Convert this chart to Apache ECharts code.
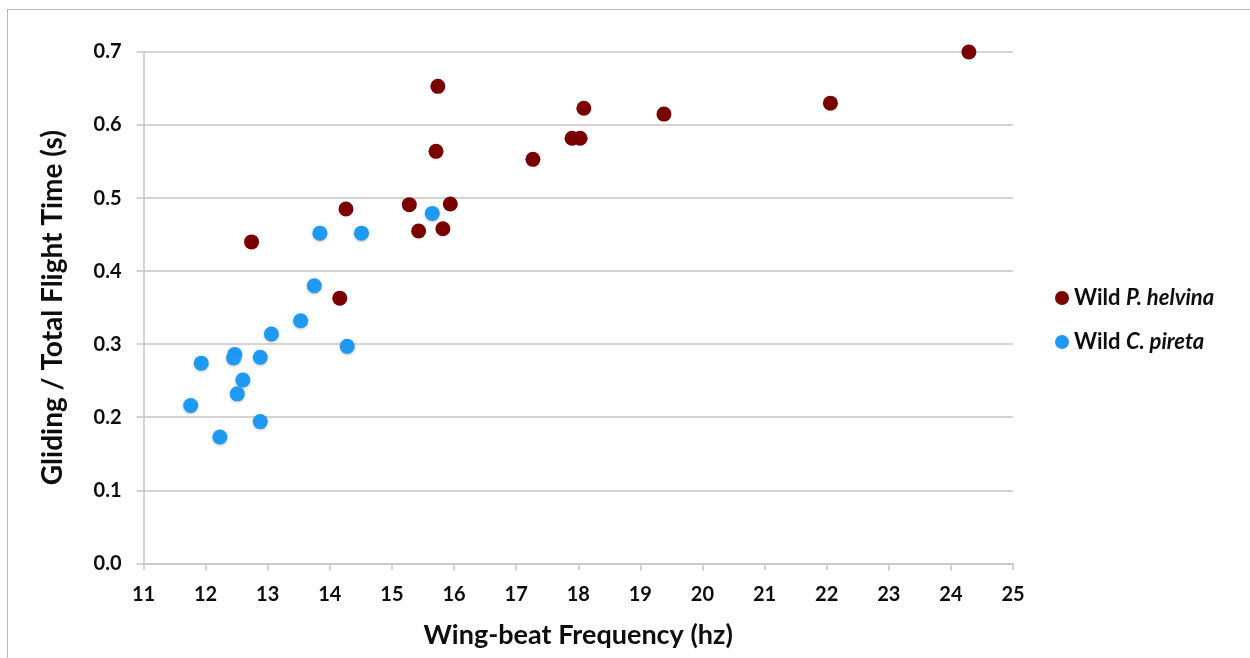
<!DOCTYPE html>
<html>
<head>
<meta charset="utf-8">
<script src="https://cdn.jsdelivr.net/npm/echarts@6/dist/echarts.min.js"></script>
<style>
  html, body { margin: 0; padding: 0; background: #fff; }
  #frame { position: absolute; left: 7px; top: 9px; right: 0; bottom: 0;
           border-left: 1px solid #b8b8b8; border-top: 1px solid #b8b8b8; }
  #chart { position: absolute; left: 0; top: 0; width: 1250px; height: 658px; }
</style>
</head>
<body>
<div id="frame"></div>
<div id="chart"></div>
<script>
// Wild P. helvina: [wing-beat frequency (hz), gliding / total flight time]
const helvinaFreq = [24.29, 15.74, 18.09, 19.38, 22.06, 17.90, 18.03, 15.71, 17.27, 15.28, 15.94, 14.26, 15.43, 15.82, 12.74, 14.16]
const helvinaRatio = [0.700, 0.653, 0.623, 0.615, 0.630, 0.582, 0.582, 0.564, 0.553, 0.491, 0.492, 0.485, 0.455, 0.458, 0.440, 0.363]

// Wild C. pireta
const piretaFreq = [13.84, 14.51, 15.65, 13.75, 13.53, 13.06, 14.28, 11.93, 12.47, 12.45, 12.88, 12.60, 12.51, 11.76, 12.88, 12.23]
const piretaRatio = [0.452, 0.452, 0.479, 0.380, 0.332, 0.314, 0.297, 0.274, 0.286, 0.281, 0.282, 0.251, 0.232, 0.216, 0.194, 0.173]

const xTicks = [11, 25, 1]
const yTicks = [0, 0.7, 0.1]

const toPairs = (xs, ys) => xs.map((x, i) => [x, ys[i]])

const FONT = 'Lato'
const WEIGHT = 'bold'
const INK = '#0d0d0d'
const GRID_GREY = '#c6c6c6'

const chart = echarts.init(document.getElementById('chart'))

chart.setOption({
    animation: false,
    textStyle: { fontFamily: FONT },
    grid: { left: 143.5, right: 237, top: 52, bottom: 94.7 },
    legend: {
        orient: 'vertical',
        left: 1050,
        top: 282,
        itemGap: 22,
        itemWidth: 14,
        itemHeight: 14,
        icon: 'circle',
        textStyle: {
            fontFamily: FONT, fontSize: 22, fontWeight: WEIGHT, color: INK,
            rich: { i: { fontFamily: FONT, fontSize: 22, fontWeight: WEIGHT, fontStyle: 'italic', color: INK } }
        },
        formatter: (name) => name.replace(/^Wild (.*)$/, 'Wild {i|$1}')
    },
    xAxis: {
        type: 'value',
        min: xTicks[0], max: xTicks[1], interval: xTicks[2],
        name: 'Wing-beat Frequency (hz)',
        nameLocation: 'middle',
        nameGap: 58,
        nameTextStyle: { fontFamily: FONT, fontSize: 27, fontWeight: WEIGHT, color: INK },
        axisLine: { lineStyle: { color: GRID_GREY, width: 1.5 } },
        axisTick: { show: true, length: 7, lineStyle: { color: GRID_GREY, width: 1.5 } },
        axisLabel: { fontFamily: FONT, fontSize: 20, fontWeight: WEIGHT, color: INK, margin: 21 },
        splitLine: { show: false }
    },
    yAxis: {
        type: 'value',
        min: yTicks[0], max: yTicks[1], interval: yTicks[2],
        name: 'Gliding / Total Flight Time (s)',
        nameLocation: 'middle',
        nameGap: 77,
        nameTextStyle: { fontFamily: FONT, fontSize: 28, fontWeight: WEIGHT, color: INK },
        axisLine: { show: true, lineStyle: { color: GRID_GREY, width: 1.5 } },
        axisTick: { show: true, length: 7, lineStyle: { color: GRID_GREY, width: 1.5 } },
        axisLabel: { fontFamily: FONT, fontSize: 20, fontWeight: WEIGHT, color: INK, margin: 22,
                     formatter: (v) => v.toFixed(1) },
        splitLine: { lineStyle: { color: GRID_GREY, width: 1.5 } }
    },
    series: [
        {
            name: 'Wild P. helvina',
            type: 'scatter',
            symbolSize: 15,
            itemStyle: { color: '#7a0000', opacity: 1 },
            data: toPairs(helvinaFreq, helvinaRatio),
            z: 3
        },
        {
            name: 'Wild C. pireta',
            type: 'scatter',
            symbolSize: 15,
            itemStyle: { color: '#1e9af5', opacity: 1, shadowBlur: 3, shadowColor: 'rgba(0,0,0,0.25)', shadowOffsetY: 1 },
            data: toPairs(piretaFreq, piretaRatio),
            z: 2
        }
    ]
})
</script>
</body>
</html>
